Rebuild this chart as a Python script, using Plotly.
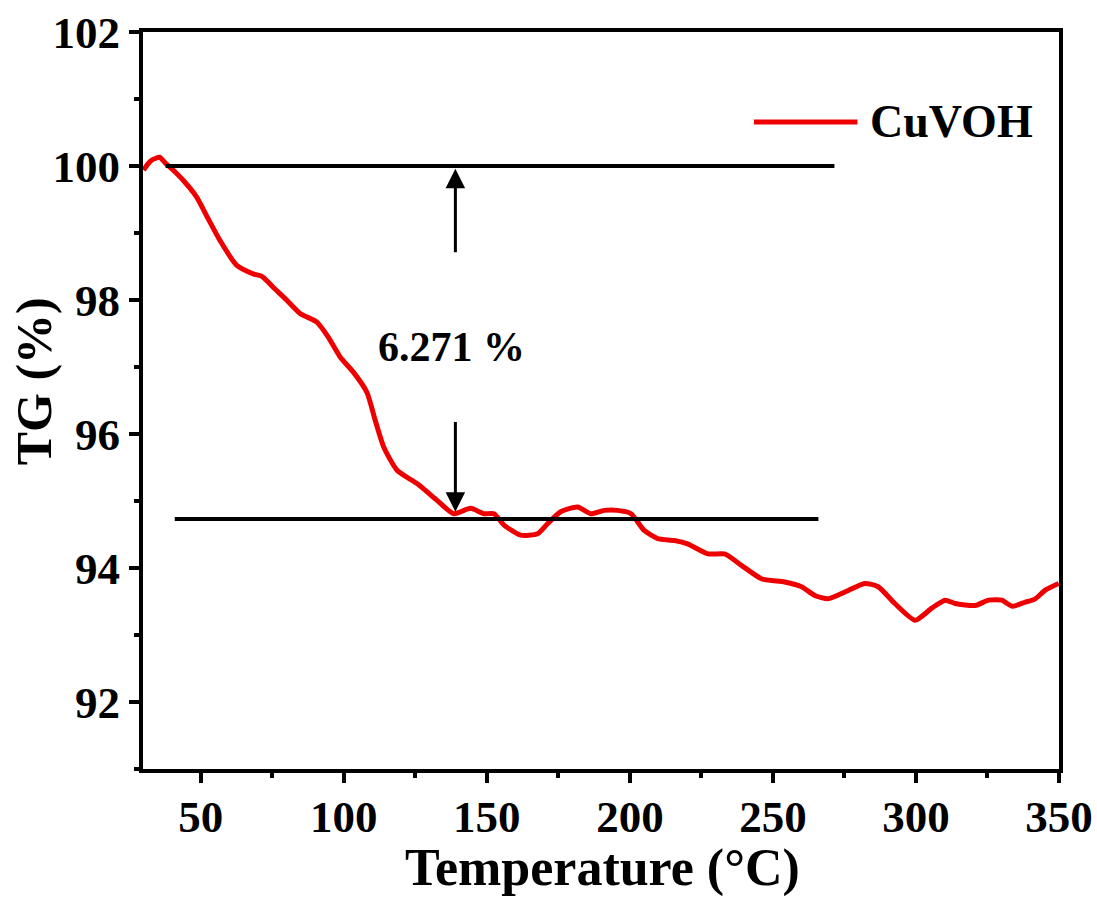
import plotly.graph_objects as go

# TG curve of CuVOH (temperature in °C, mass in %)
temperature = [30.0, 31.5, 33.0, 35.6, 37.7, 40.3, 44.0, 48.5, 52.5, 56.7, 62.5, 68.3, 71.5, 75.3, 80.0, 84.7,
               90.6, 94.5, 98.7, 103.4, 108.1, 111.0, 113.9, 118.6, 125.6, 132.6, 138.4, 144.3, 149.0,
               152.5, 156.0, 161.8, 167.7, 171.2, 175.8, 181.7, 186.3, 191.0, 195.7, 200.4, 205.0,
               209.7, 215.6, 220.2, 227.3, 233.1, 239.0, 246.0, 254.1, 260.0, 264.6, 269.3, 275.1,
               282.1, 286.8, 292.6, 299.7, 305.5, 310.2, 313.7, 320.7, 325.4, 330.0, 333.6, 338.2,
               341.7, 345.2, 349.9]
tg = [99.94, 100.03, 100.09, 100.13, 100.04, 99.94, 99.78, 99.54, 99.22, 98.89, 98.52, 98.39, 98.35, 98.19,
      98.00, 97.80, 97.67, 97.45, 97.15, 96.92, 96.62, 96.20, 95.81, 95.46, 95.26, 95.01, 94.81,
      94.89, 94.81, 94.81, 94.64, 94.49, 94.51, 94.66, 94.84, 94.91, 94.81, 94.86, 94.86, 94.81,
      94.56, 94.44, 94.41, 94.36, 94.21, 94.21, 94.04, 93.84, 93.79, 93.72, 93.59, 93.54, 93.64,
      93.77, 93.72, 93.47, 93.22, 93.40, 93.52, 93.47, 93.44, 93.52, 93.52, 93.43, 93.49, 93.54,
      93.67, 93.77]

# reference levels and annotation
upper_level_x = [37.7, 271.5]
upper_level_y = [100.0, 100.0]
lower_level_x = [40.9, 265.9]
lower_level_y = [94.73, 94.73]
arrow_x = 139.0
arrow_up = (98.69, 99.96)     # tail, head
arrow_down = (96.20, 94.84)   # tail, head
loss_label = "6.271 %"
loss_label_pos = (137.5, 97.3)

x_ticks = [50, 100, 150, 200, 250, 300, 350]
y_ticks = [92, 94, 96, 98, 100, 102]

FONT = "Liberation Serif"
RED = "#ee0000"

fig = go.Figure()
fig.add_trace(go.Scatter(x=temperature, y=tg, mode="lines", name="CuVOH",
                         line=dict(color=RED, width=5, shape="spline", smoothing=0.6),
                         showlegend=False))
fig.add_trace(go.Scatter(x=upper_level_x, y=upper_level_y, mode="lines",
                         line=dict(color="black", width=4), showlegend=False))
fig.add_trace(go.Scatter(x=lower_level_x, y=lower_level_y, mode="lines",
                         line=dict(color="black", width=4), showlegend=False))

for tail, head in (arrow_up, arrow_down):
    fig.add_annotation(x=arrow_x, y=head, ax=arrow_x, ay=tail, xref="x", yref="y",
                       axref="x", ayref="y", text="", showarrow=True,
                       arrowhead=2, arrowsize=1.3, arrowwidth=3, arrowcolor="black")

fig.add_annotation(x=loss_label_pos[0], y=loss_label_pos[1], xref="x", yref="y",
                   text=loss_label, showarrow=False,
                   font=dict(family=FONT, size=42, color="black", weight="bold"))

# legend drawn manually (long line sample)
fig.add_shape(type="line", xref="paper", yref="paper", x0=0.667, x1=0.78, y0=0.878, y1=0.878,
              line=dict(color=RED, width=5))
fig.add_annotation(xref="paper", yref="paper", x=0.791, y=0.878, xanchor="left", yanchor="middle",
                   text="CuVOH", showarrow=False,
                   font=dict(family=FONT, size=46, color="black", weight="bold"))

# axis titles as annotations
fig.add_annotation(xref="paper", yref="paper", x=-0.119, y=0.526, textangle=-90,
                   text="TG (%)", showarrow=False, xanchor="center", yanchor="middle",
                   font=dict(family=FONT, size=50, color="black", weight="bold"))
fig.add_annotation(xref="paper", yref="paper", x=0.5016, y=-0.135,
                   text="Temperature (°C)", showarrow=False, xanchor="center", yanchor="middle",
                   font=dict(family=FONT, size=52, color="black", weight="bold"))

axis_common = dict(showline=True, linecolor="black", linewidth=4, mirror=True,
                   ticks="outside", ticklen=10, tickwidth=4, tickcolor="black",
                   showgrid=False, zeroline=False, automargin=False,
                   tickfont=dict(family=FONT, size=45, color="black", weight="bold"))

fig.update_xaxes(range=[29.8, 350], tickvals=x_ticks, ticklabelstandoff=-5,
                 minor=dict(ticks="outside", ticklen=5, tickwidth=4, tickcolor="black", dtick=25, tick0=0),
                 **axis_common)
fig.update_yaxes(range=[91, 102], tickvals=y_ticks,
                 minor=dict(ticks="outside", ticklen=5, tickwidth=4, tickcolor="black", dtick=1, tick0=0),
                 **axis_common)

fig.update_layout(width=1097, height=922, plot_bgcolor="white", paper_bgcolor="white",
                  margin=dict(l=143, r=38, t=32, b=153), showlegend=False)

fig.write_html("out.html")
